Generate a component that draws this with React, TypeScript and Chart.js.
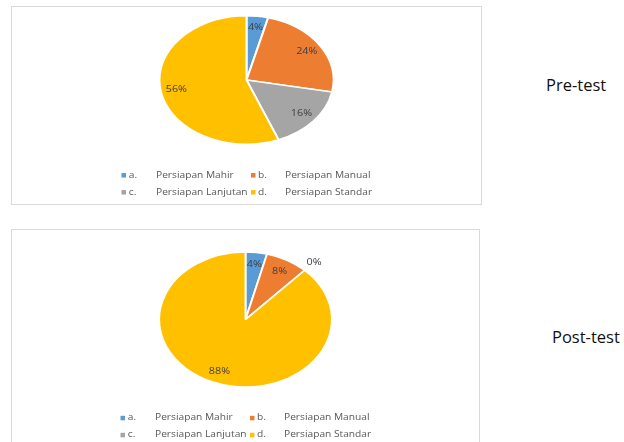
import React, { useEffect, useRef } from "react";
import { Chart, registerables } from "chart.js";

Chart.register(...registerables);

// ---- data ----
const CATEGORY_LETTERS = ["a.", "b.", "c.", "d."];
const CATEGORY_NAMES = ["Persiapan Mahir", "Persiapan Manual", "Persiapan Lanjutan", "Persiapan Standar"];
const PRE_TEST_VALUES = [4, 24, 16, 56];
const POST_TEST_VALUES = [4, 8, 0, 88];
const SLICE_COLORS = ["#5B9BD5", "#ED7D31", "#A5A5A5", "#FFC000"];
const PANEL_TITLES = ["Pre-test", "Post-test"];

const TEXT_SX = 1.2;
const FONT = "'Open Sans', 'Noto Sans', sans-serif";

function drawStretchedText(ctx: CanvasRenderingContext2D, text: string, x: number, y: number, align: CanvasTextAlign) {
  ctx.save();
  ctx.translate(x, y);
  ctx.scale(TEXT_SX, 1);
  ctx.textAlign = align;
  ctx.textBaseline = "middle";
  ctx.fillText(text, 0, 0);
  ctx.restore();
}

function makePlugin(stretch: number, values: number[]) {
  return {
    id: "ellipsePie",
    beforeDatasetsDraw(chart: any) {
      const arc = chart.getDatasetMeta(0).data[0];
      const ctx = chart.ctx as CanvasRenderingContext2D;
      ctx.save();
      ctx.translate(arc.x, arc.y);
      ctx.scale(stretch, 1);
      ctx.translate(-arc.x, -arc.y);
    },
    afterDatasetsDraw(chart: any) {
      const ctx = chart.ctx as CanvasRenderingContext2D;
      ctx.restore();
      const meta = chart.getDatasetMeta(0);
      let cx = 0, cy = 0, r = 0;
      // data labels
      ctx.save();
      ctx.fillStyle = "#404040";
      ctx.font = `9px ${FONT}`;
      meta.data.forEach((el: any, i: number) => {
        const p = el.getProps(["x", "y", "startAngle", "endAngle", "outerRadius"], true);
        cx = p.x; cy = p.y; r = p.outerRadius;
        const mid = (p.startAngle + p.endAngle) / 2;
        const f = values[i] === 0 ? 1.16 : 0.82;
        const x = p.x + Math.cos(mid) * p.outerRadius * f * stretch;
        const y = p.y + Math.sin(mid) * p.outerRadius * f;
        drawStretchedText(ctx, `${values[i]}%`, x, y, "center");
      });
      ctx.restore();
      // legend (2 x 2 grid)
      const cols = [
        { marker: -125, letter: -117.7, name: -90.5 },
        { marker: 4.5, letter: 11.5, name: 38.5 },
      ];
      ctx.save();
      ctx.font = `8.5px ${FONT}`;
      CATEGORY_NAMES.forEach((name, i) => {
        const col = cols[i % 2];
        const row = Math.floor(i / 2);
        const y = cy + r + 31 + row * 17;
        ctx.fillStyle = SLICE_COLORS[i];
        ctx.fillRect(cx + col.marker, y - 2.2, 4.5, 4.5);
        ctx.fillStyle = "#595959";
        drawStretchedText(ctx, CATEGORY_LETTERS[i], cx + col.letter, y, "left");
        drawStretchedText(ctx, name, cx + col.name, y, "left");
      });
      ctx.restore();
    },
  };
}

type PieProps = {
  values: number[];
  stretch: number;
  width: number;
  height: number;
  padTop: number;
  padBottom: number;
};

function EllipsePie({ values, stretch, width, height, padTop, padBottom }: PieProps) {
  const ref = useRef<HTMLCanvasElement | null>(null);
  useEffect(() => {
    if (!ref.current) return;
    const chart = new Chart(ref.current, {
      type: "pie",
      data: {
        labels: CATEGORY_NAMES,
        datasets: [
          {
            data: values,
            backgroundColor: SLICE_COLORS,
            borderColor: "#ffffff",
            borderWidth: 1.5,
            clip: false as any,
          },
        ],
      },
      options: {
        responsive: false,
        animation: false,
        devicePixelRatio: 1,
        layout: { padding: { top: padTop, bottom: padBottom, left: 0, right: 0 } },
        plugins: { legend: { display: false }, tooltip: { enabled: false } },
      },
      plugins: [makePlugin(stretch, values) as any],
    });
    return () => chart.destroy();
  }, [values, stretch, width, height, padTop, padBottom]);
  return <canvas ref={ref} width={width} height={height} style={{ display: "block", width, height }} />;
}

export default function App() {
  const boxStyle: React.CSSProperties = {
    position: "absolute",
    border: "1px solid #d9d9d9",
    boxSizing: "border-box",
    background: "#fff",
    overflow: "hidden",
  };
  const titleStyle: React.CSSProperties = {
    position: "absolute",
    fontFamily: FONT,
    fontSize: 16.5,
    lineHeight: "20px",
    color: "#111",
    whiteSpace: "nowrap",
  };
  return (
    <div style={{ position: "absolute", left: 0, top: 0, width: 624, height: 442, overflow: "hidden", background: "#fff" }}>
      <div style={{ ...boxStyle, left: 11, top: 6, width: 471, height: 199 }}>
        <EllipsePie values={PRE_TEST_VALUES} stretch={1.355} width={469} height={197} padTop={8} padBottom={59} />
      </div>
      <div style={{ ...titleStyle, left: 546, top: 75 }}>{PANEL_TITLES[0]}</div>
      <div style={{ ...boxStyle, left: 11, top: 229, width: 469, height: 225 }}>
        <EllipsePie values={POST_TEST_VALUES} stretch={1.28} width={467} height={223} padTop={21.25} padBottom={65.25} />
      </div>
      <div style={{ ...titleStyle, left: 552, top: 327 }}>{PANEL_TITLES[1]}</div>
    </div>
  );
}
